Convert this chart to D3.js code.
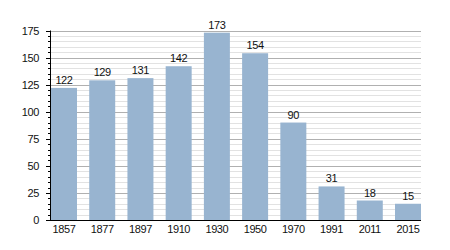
<!DOCTYPE html>
<html><head><meta charset="utf-8">
<script src="https://cdn.jsdelivr.net/npm/d3@7"></script>
<style>body{margin:0;background:#fff}svg{display:block}text{letter-spacing:-0.4px}</style>
</head><body>
<svg id="c" width="450" height="250"></svg>
<script>
const years = ["1857","1877","1897","1910","1930","1950","1970","1991","2011","2015"];
const values = [122,129,131,142,173,154,90,31,18,15];
const yTicks = [0,25,50,75,100,125,150,175];

const svg = d3.select("#c");
const x0 = 51, x1 = 421, yTop = 30.5, yBot = 220;
const x = d3.scaleBand().domain(years).range([x0,x1]).paddingInner(0.32).paddingOuter(0);
const y = d3.scaleLinear().domain([0,175]).range([yBot,yTop]);
const font = "Liberation Sans, Arial, sans-serif";

// minor grid
const minor = d3.range(5,176,5).filter(v=>v%25!==0);
svg.append("g").selectAll("line").data(minor).join("line")
  .attr("x1",50).attr("x2",x1).attr("y1",d=>Math.round(y(d))+0.5).attr("y2",d=>Math.round(y(d))+0.5)
  .attr("stroke","#e2e2e2").attr("stroke-width",1);
// major grid
svg.append("g").selectAll("line").data(yTicks.filter(v=>v>0)).join("line")
  .attr("x1",50).attr("x2",x1).attr("y1",d=>Math.round(y(d))+0.5).attr("y2",d=>Math.round(y(d))+0.5)
  .attr("stroke","#b0b0b0").attr("stroke-width",1);

// bars
svg.append("g").selectAll("rect").data(values).join("rect")
  .attr("x",(d,i)=>x(years[i])).attr("width",x.bandwidth())
  .attr("y",d=>y(d)).attr("height",d=>yBot-y(d))
  .attr("fill","#98b4d0");

// value labels
svg.append("g").selectAll("text").data(values).join("text")
  .attr("x",(d,i)=>x(years[i])+x.bandwidth()/2).attr("y",d=>y(d)-4)
  .attr("text-anchor","middle").attr("font-family",font).attr("font-size",11).attr("fill","#111")
  .text(d=>d);

// y axis
const ya = svg.append("g");
ya.append("line").attr("x1",50.5).attr("x2",50.5).attr("y1",yTop).attr("y2",yBot).attr("stroke","#000");
ya.selectAll("line.mi").data(minor).join("line").attr("class","mi")
  .attr("x1",48).attr("x2",50.5).attr("y1",d=>Math.round(y(d))+0.5).attr("y2",d=>Math.round(y(d))+0.5).attr("stroke","#000");
ya.selectAll("line.ma").data(yTicks).join("line").attr("class","ma")
  .attr("x1",46).attr("x2",50.5).attr("y1",d=>Math.round(y(d))+0.5).attr("y2",d=>Math.round(y(d))+0.5).attr("stroke","#000");
ya.selectAll("text").data(yTicks).join("text")
  .attr("x",39).attr("y",d=>y(d)+4).attr("text-anchor","end")
  .attr("font-family",font).attr("font-size",11).attr("fill","#111").text(d=>d);

// x axis
svg.append("line").attr("x1",50).attr("x2",x1).attr("y1",yBot+0.5).attr("y2",yBot+0.5).attr("stroke","#000");
svg.append("g").selectAll("text").data(years).join("text")
  .attr("x",d=>x(d)+x.bandwidth()/2).attr("y",233)
  .attr("text-anchor","middle").attr("font-family",font).attr("font-size",11).attr("fill","#111").text(d=>d);
</script>
</body></html>
